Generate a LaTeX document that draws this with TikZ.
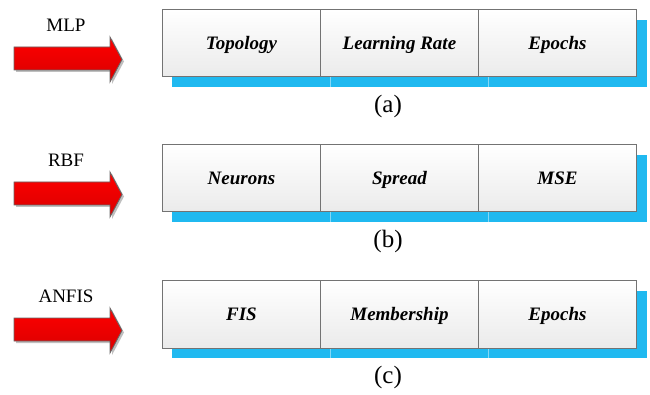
\documentclass[tikz,border=0pt]{standalone}
\usepackage{fontspec}
\setmainfont{Liberation Serif}
\begin{document}
\begin{tikzpicture}[x=1pt,y=-1pt,
  cell/.style={draw=black!55, line width=0.9pt, top color=white, bottom color=black!8,
    minimum width=158pt, minimum height=67.5pt, inner sep=0pt, anchor=north west,
    text height=12.6pt, text depth=0pt,
    font=\fontsize{19}{22}\selectfont\bfseries\itshape},
  redarrow/.style={top color=red, bottom color=red!85!black, draw=black!60, line width=0.8pt},
  arrowshade/.style={fill=black!25, draw=none},
  method/.style={font=\fontsize{19}{22}\selectfont, anchor=base, inner sep=0pt},
  caption/.style={font=\fontsize{25}{28}\selectfont, anchor=base, inner sep=0pt}]
\useasboundingbox (0,0) rectangle (650,395);
\definecolor{panelblue}{HTML}{20B9F0}
\foreach \T/\lab/\cap/\ta/\tb/\tc/\id in {
    9/MLP/(a)/Topology/Learning Rate/Epochs/a,
    144/RBF/(b)/Neurons/Spread/MSE/b,
    280/ANFIS/(c)/FIS/Membership/Epochs/c}{
  % blue backing panel offset behind the three cells, with faint seams
  \fill[panelblue] (172,\T+11) rectangle (647,\T+78);
  \draw[panelblue!55!white, line width=0.7pt] (330.5,\T+67.5) -- (330.5,\T+78)
        (488.5,\T+67.5) -- (488.5,\T+78);
  \node[cell] (\id1) at (162,\T) {\ta};
  \node[cell] (\id2) at (320,\T) {\tb};
  \node[cell] (\id3) at (478,\T) {\tc};
  % block arrow pointing at the row
  \fill[arrowshade] (16,\T+40) -- (112,\T+40) -- (112,\T+30) -- (124,\T+52.5)
     -- (112,\T+75) -- (112,\T+63) -- (16,\T+63) -- cycle;
  \path[redarrow] (14,\T+38) -- (110,\T+38) -- (110,\T+28) -- (122,\T+50.5)
     -- (110,\T+73) -- (110,\T+61) -- (14,\T+61) -- cycle;
  \node[method] (\id m) at (66,\T+22.7) {\lab};
  \node[caption] (\id c) at (388,\T+103.5) {\cap};
}
\end{tikzpicture}
\end{document}
